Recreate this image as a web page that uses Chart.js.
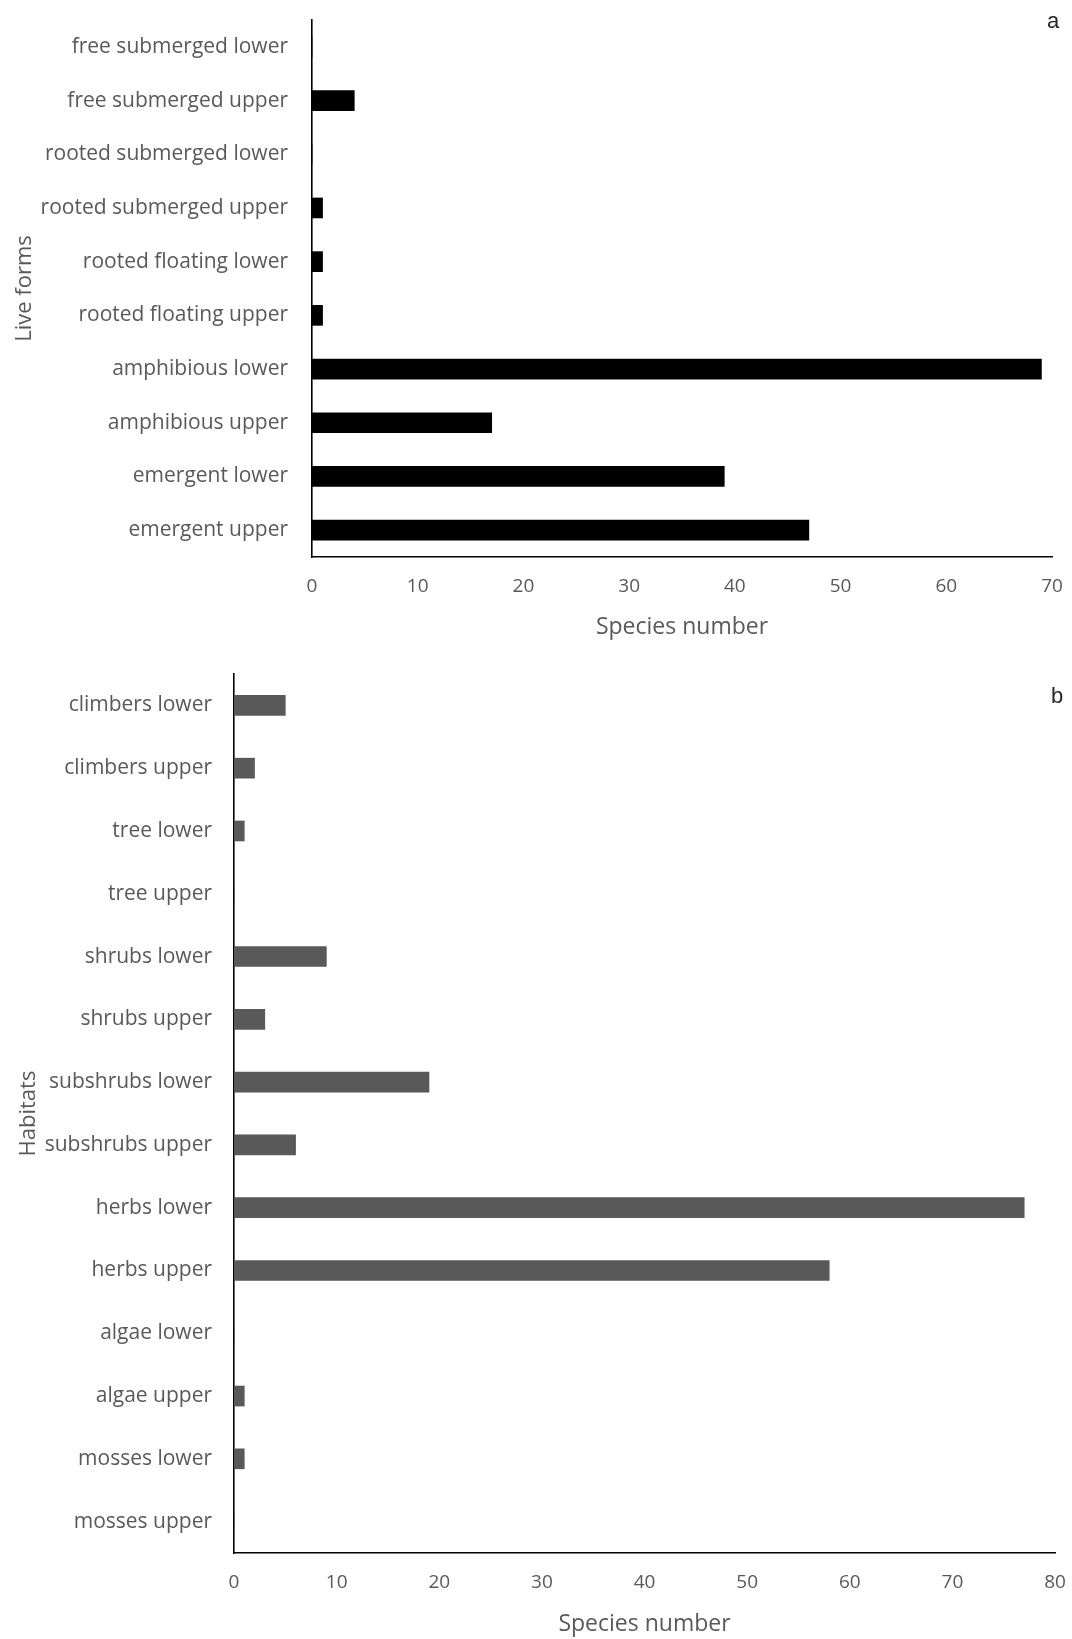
<!DOCTYPE html>
<html>
<head>
<meta charset="utf-8">
<script src="https://cdn.jsdelivr.net/npm/chart.js@4/dist/chart.umd.min.js"></script>
<style>
  html, body { margin: 0; padding: 0; background: #ffffff; }
  body { width: 1072px; height: 1639px; position: relative; overflow: hidden; }
  canvas { position: absolute; left: 0; }
  #lifeForms { top: 0; }
  #habitats { top: 650px; }
  .panel-tag { position: absolute; font-family: "Liberation Sans", Arial, sans-serif; font-size: 22px; color: #262626; transform: translate(-50%, -50%); }
</style>
</head>
<body>
<canvas id="lifeForms" width="1072" height="650"></canvas>
<canvas id="habitats" width="1072" height="989"></canvas>
<div class="panel-tag" style="left:1053px; top:21px;">a</div>
<div class="panel-tag" style="left:1057px; top:696px;">b</div>
<script>
// Panel a: live forms
const lifeFormLabels = [
  'free submerged lower', 'free submerged upper', 'rooted submerged lower',
  'rooted submerged upper', 'rooted floating lower', 'rooted floating upper',
  'amphibious lower', 'amphibious upper', 'emergent lower', 'emergent upper'
];
const lifeFormCounts = [0, 4, 0, 1, 1, 1, 69, 17, 39, 47];
const lifeFormTicks = [0, 10, 20, 30, 40, 50, 60, 70];

// Panel b: habitats
const habitatLabels = [
  'climbers lower', 'climbers upper', 'tree lower', 'tree upper',
  'shrubs lower', 'shrubs upper', 'subshrubs lower', 'subshrubs upper',
  'herbs lower', 'herbs upper', 'algae lower', 'algae upper',
  'mosses lower', 'mosses upper'
];
const habitatCounts = [5, 2, 1, 0, 9, 3, 19, 6, 77, 58, 0, 1, 1, 0];
const habitatTicks = [0, 10, 20, 30, 40, 50, 60, 70, 80];

const TEXT_GREY = '#595959';
const LABEL_FONT = { family: '"Open Sans", sans-serif', size: 21 };
const NUM_FONT = { family: '"Open Sans", sans-serif', size: 19 };

function hBar(canvasId, labels, values, ticks, opts) {
  const ctx = document.getElementById(canvasId).getContext('2d');
  return new Chart(ctx, {
    type: 'bar',
    data: {
      labels: labels,
      datasets: [{
        data: values,
        backgroundColor: opts.barColor,
        borderWidth: 0,
        barThickness: 20
      }]
    },
    options: {
      indexAxis: 'y',
      responsive: false,
      animation: false,
      layout: { padding: opts.padding },
      plugins: { legend: { display: false }, tooltip: { enabled: false } },
      scales: {
        x: {
          min: ticks[0],
          max: ticks[ticks.length - 1],
          afterBuildTicks: (scale) => { scale.ticks = ticks.map(v => ({ value: v })); },
          afterFit: (scale) => {
            scale.height = opts.xAxisHeight;
            scale.paddingLeft = 0;
            scale.paddingRight = 0;
          },
          grid: { display: false, drawTicks: false },
          border: { display: true, color: '#000000', width: 1.6 },
          ticks: { color: TEXT_GREY, font: NUM_FONT, padding: opts.xTickPad, maxRotation: 0 },
          title: {
            display: true, text: 'Species number', color: TEXT_GREY,
            font: { family: '"Open Sans", sans-serif', size: 23 },
            padding: opts.xTitlePad
          }
        },
        y: {
          afterFit: (scale) => {
            scale.width = opts.yAxisWidth;
            scale.paddingTop = 0;
            scale.paddingBottom = 0;
          },
          grid: { display: false, drawTicks: false },
          border: { display: true, color: '#000000', width: 1.6 },
          ticks: { color: TEXT_GREY, font: LABEL_FONT, padding: opts.yTickPad, autoSkip: false },
          title: {
            display: true, text: opts.yTitle, color: TEXT_GREY,
            font: { family: '"Open Sans", sans-serif', size: 22 },
            padding: opts.yTitlePad
          }
        }
      }
    }
  });
}

hBar('lifeForms', lifeFormLabels, lifeFormCounts, lifeFormTicks, {
  barColor: '#000000',
  padding: { top: 20, right: 20, left: 0, bottom: 0 },
  xAxisHeight: 93,
  yAxisWidth: 312,
  xTickPad: 18,
  xTitlePad: { top: 0, bottom: 9 },
  yTickPad: 24,
  yTitle: 'Live forms',
  yTitlePad: { top: 12, bottom: 0 }
});

hBar('habitats', habitatLabels, habitatCounts, habitatTicks, {
  barColor: '#595959',
  padding: { top: 24, right: 17, left: 0, bottom: 0 },
  xAxisHeight: 86,
  yAxisWidth: 234,
  xTickPad: 18,
  xTitlePad: { top: 0, bottom: 1 },
  yTickPad: 22,
  yTitle: 'Habitats',
  yTitlePad: { top: 16, bottom: 0 }
});
</script>
</body>
</html>
